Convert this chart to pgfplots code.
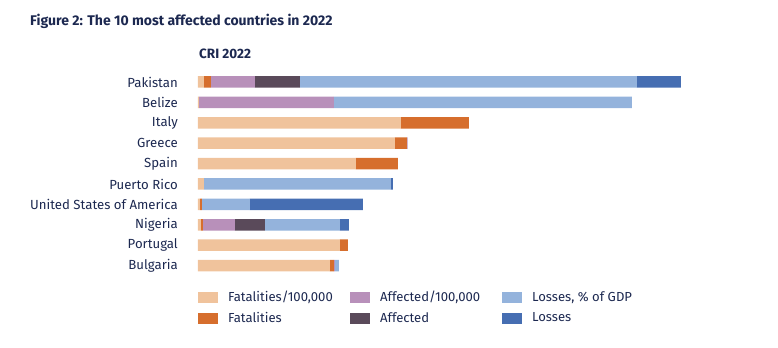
\documentclass[border=0pt]{standalone}
\usepackage{fontspec}
\setmainfont{Fira Sans}
\usepackage{pgfplots}
\pgfplotsset{compat=1.18}
\definecolor{cF}{RGB}{240,195,156}
\definecolor{cFa}{RGB}{214,110,45}
\definecolor{cA}{RGB}{184,144,186}
\definecolor{cAa}{RGB}{90,74,90}
\definecolor{cL}{RGB}{148,179,220}
\definecolor{cLa}{RGB}{70,110,178}
\definecolor{txt}{RGB}{28,40,80}
\pgfplotsset{mylegend/.style={legend image code/.code={\fill[##1] (0pt,-5.5pt) rectangle (20pt,5.5pt);}}}
\newcommand{\lbox}[1]{\makebox[120pt][l]{#1}}
\begin{document}
\begin{tikzpicture}
\begin{axis}[
  scale only axis, width=580pt, height=348pt,
  xmin=0, xmax=580, ymin=0, ymax=348, y dir=reverse,
  at={(198pt,0pt)}, anchor=south west,
  clip=false,
  xbar stacked, bar width=11.5pt,
  axis line style={draw=none}, major tick length=0pt,
  xtick=\empty,
  ytick={82,102.4,122.8,143.2,163.6,184,204.4,224.8,245.2,265.6},
  yticklabels={Pakistan,Belize,Italy,Greece,Spain,Puerto Rico,United States of America,Nigeria,Portugal,Bulgaria},
  yticklabel style={font=\fontsize{13.2}{15}\selectfont, text=txt, inner sep=0pt, xshift=-20pt},
  every axis plot/.append style={draw=none},
  transpose legend, legend columns=2,
  legend style={at={(axis cs:0,289)}, anchor=north west, draw=none, fill=none, inner sep=0pt,
    font=\fontsize{13.1}{15}\selectfont, text=txt, row sep=5pt,
    /tikz/every odd column/.append style={column sep=8pt},
    /tikz/every even column/.append style={column sep=0pt}},
  legend cell align=left,
]
\addplot[fill=cF, mylegend] coordinates {(6,82) (1,102.4) (203,122.8) (197,143.2) (158,163.6) (6,184) (2,204.4) (3,224.8) (142,245.2) (132,265.6)};
\addplot[fill=cFa, mylegend] coordinates {(7,82) (0,102.4) (68,122.8) (12,143.2) (42,163.6) (0,184) (2,204.4) (2,224.8) (8,245.2) (4,265.6)};
\addplot[fill=cA, mylegend] coordinates {(44,82) (135,102.4) (0,122.8) (0.6,143.2) (0,163.6) (0,184) (0,204.4) (32,224.8) (0,245.2) (1,265.6)};
\addplot[fill=cAa, mylegend] coordinates {(45,82) (0,102.4) (0,122.8) (0,143.2) (0,163.6) (0,184) (0,204.4) (30,224.8) (0,245.2) (0,265.6)};
\addplot[fill=cL, mylegend] coordinates {(337,82) (298,102.4) (0,122.8) (0,143.2) (0,163.6) (187,184) (48,204.4) (75,224.8) (0,245.2) (4,265.6)};
\addplot[fill=cLa, mylegend] coordinates {(44,82) (0,102.4) (0,122.8) (0,143.2) (0,163.6) (2,184) (113,204.4) (9,224.8) (0,245.2) (0,265.6)};
\legend{\lbox{Fatalities/100,000},\lbox{Fatalities},\lbox{Affected/100,000},\lbox{Affected},\lbox{Losses, \% of GDP},\lbox{Losses}}
\path (axis cs:-198,0) rectangle (axis cs:580,348);
\node[anchor=west, font=\bfseries\fontsize{14}{16}\selectfont, text=txt, inner sep=0pt] at (axis cs:-168,21) {Figure 2: The 10 most affected countries in 2022};
\node[anchor=west, font=\bfseries\fontsize{13.5}{15}\selectfont, text=txt, inner sep=0pt] at (axis cs:1,54) {CRI 2022};
\end{axis}
\end{tikzpicture}
\end{document}
